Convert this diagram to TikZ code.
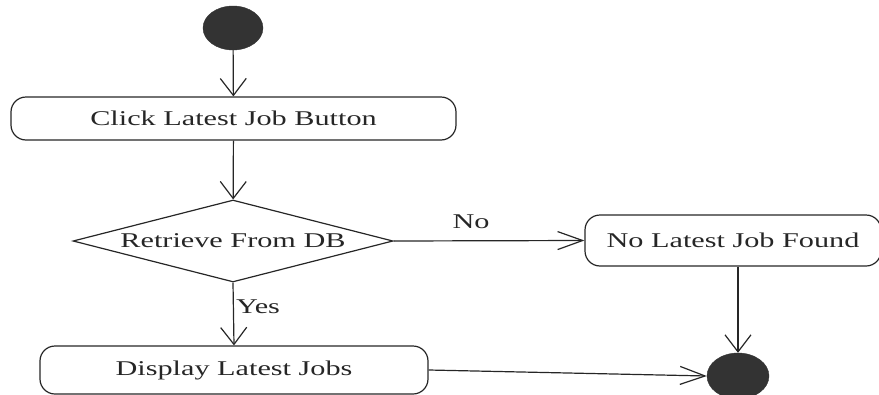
\documentclass[tikz,border=0pt]{standalone}
\usepackage{fontspec}
\usepackage{graphicx}
\setmainfont{Liberation Serif}
\usetikzlibrary{arrows.meta,shapes.geometric}
\definecolor{ink}{HTML}{262626}
\definecolor{dot}{HTML}{333333}
\newcommand{\wide}[1]{\scalebox{1.44}[1]{#1}}
\tikzset{
  actbox/.style={draw=ink, line width=1.2pt, rounded corners=15pt, inner sep=0pt,
    text=ink, font=\fontsize{21}{25}\selectfont},
  decbox/.style={draw=ink, line width=1.2pt, diamond, inner sep=0pt,
    text=ink, font=\fontsize{21}{25}\selectfont},
  blob/.style={ellipse, fill=dot, draw=dot, inner sep=0pt},
  vflow/.style={draw=ink, line width=1.2pt, -{Straight Barb[length=17pt,width=26pt]}},
  hflow/.style={draw=ink, line width=1.2pt, -{Straight Barb[length=25pt,width=18pt]}},
  guard/.style={text=ink, font=\fontsize{21}{25}\selectfont, inner sep=0pt}
}
\begin{document}
\begin{tikzpicture}[x=1pt,y=-1pt]
  \useasboundingbox (0,0) rectangle (879,394);
  \clip (0,0) rectangle (879,394);

  % initial and final states
  \node[blob, minimum width=60pt, minimum height=44pt] (start) at (233,28) {};
  \node[blob, minimum width=62pt, minimum height=46pt] (stop) at (738,376) {};

  % actions
  \node[actbox, minimum width=445pt, minimum height=43pt] (click) at (233.5,118.5)
    {\wide{Click Latest Job Button}};
  \node[decbox, minimum width=320pt, minimum height=82pt, aspect=3.9] (fetch) at (233,241)
    {\wide{Retrieve From DB}};
  \node[actbox, minimum width=296pt, minimum height=51pt] (none) at (733,240.5)
    {\wide{No Latest Job Found}};
  \node[actbox, minimum width=388pt, minimum height=48pt] (show) at (234,370)
    {\wide{Display Latest Jobs}};

  % guards
  \node[guard] (no) at (471,222) {\wide{No}};
  \node[guard] (yes) at (258,307) {\wide{Yes}};

  % control flow
  \draw[vflow] (start) -- (click);
  \draw[vflow] (click) -- (fetch);
  \draw[hflow] (fetch.east) -- (none.west);
  \draw[vflow] (fetch.south) -- (show.north);
  \draw[vflow] (none.south -| stop.north) -- (stop.north);
  \draw[hflow] (show.east) -- (stop.west);
\end{tikzpicture}
\end{document}
